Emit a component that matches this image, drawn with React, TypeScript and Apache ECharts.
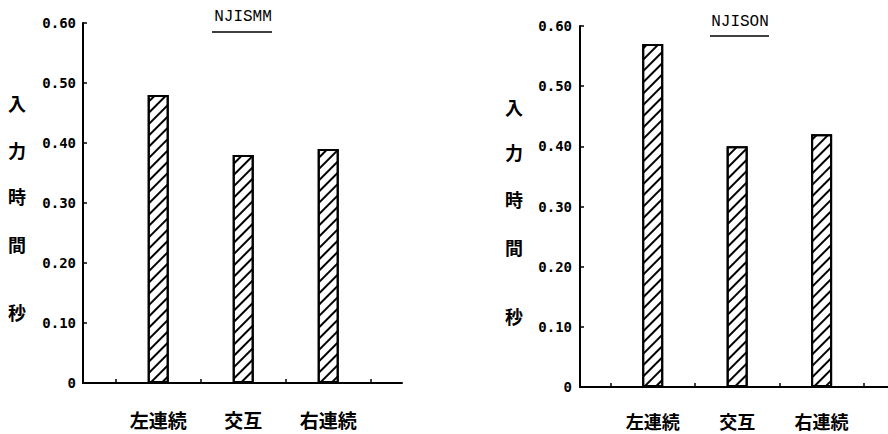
import React, { useEffect, useRef } from "react";
import * as echarts from "echarts";

const categories = ["左連続", "交互", "右連続"];
const leftTitle = "NJISMM";
const rightTitle = "NJISON";
const leftValues = [0.48, 0.38, 0.39];
const rightValues = [0.57, 0.40, 0.42];
const yAxisTitle = ["入", "力", "時", "間"];
const yAxisUnit = "秒";
const catPositions = [1, 2, 3];
const tickPositions = [0.5, 1.5, 2.5, 3.5];

const MONO = "'DejaVu Sans Mono', 'Liberation Mono', monospace";
const TMONO = "'Liberation Mono', 'DejaVu Sans Mono', monospace";
const CJK = "'Noto Sans CJK JP', 'Noto Sans CJK SC', sans-serif";

export default function App() {
  const ref = useRef<HTMLDivElement>(null);
  useEffect(() => {
    if (!ref.current) return;
    const chart = echarts.init(ref.current, null, { renderer: "svg" });

    const decal = {
      symbol: "rect",
      symbolSize: 1,
      dashArrayX: [1, 0],
      dashArrayY: [1.6, 5.2],
      rotation: -Math.PI / 4,
      color: "#000",
      backgroundColor: "#fff",
    };

    const mkX = (gridIndex: number, min: number, max: number, margin: number, fontSize: number) => ({
      type: "value",
      gridIndex,
      min,
      max,
      splitLine: { show: false },
      axisLine: { show: true, lineStyle: { color: "#000", width: 2 } },
      axisTick: {
        show: true,
        inside: true,
        length: 4,
        customValues: tickPositions,
        lineStyle: { color: "#000", width: 1.5 },
      },
      axisLabel: {
        show: true,
        customValues: catPositions,
        formatter: (v: number) => categories[Math.round(v) - 1] ?? "",
        margin,
        color: "#000",
        fontFamily: CJK,
        fontWeight: "bold",
        fontSize,
      },
    });

    const mkY = (gridIndex: number, margin: number) => ({
      type: "value",
      gridIndex,
      min: 0,
      max: 0.6,
      interval: 0.1,
      splitLine: { show: false },
      axisLine: { show: true, lineStyle: { color: "#000", width: 2 } },
      axisTick: { show: true, inside: true, length: 4, lineStyle: { color: "#000", width: 1.5 } },
      axisLabel: {
        margin,
        color: "#000",
        fontFamily: MONO,
        fontWeight: "bold",
        fontSize: 14,
        formatter: (v: number) => (v === 0 ? "0" : v.toFixed(2)),
      },
    });

    const mkBar = (idx: number, values: number[]) => ({
      type: "bar",
      xAxisIndex: idx,
      yAxisIndex: idx,
      barWidth: 21,
      data: values.map((v, i) => [catPositions[i], v]),
      itemStyle: { color: "#fff", borderColor: "#000", borderWidth: 2, decal },
    });

    const titleText = (text: string, cx: number, cy: number, lineY: number, x1: number, x2: number) => [
      {
        type: "text",
        x: cx,
        y: cy,
        style: {
          text,
          fill: "#000",
          font: `normal 16px ${TMONO}`,
          textAlign: "center",
          textVerticalAlign: "middle",
        },
      },
      {
        type: "line",
        shape: { x1, y1: lineY, x2, y2: lineY },
        style: { stroke: "#000", lineWidth: 1.5 },
      },
    ];

    const charStyle = (text: string) => ({
      text,
      fill: "#000",
      font: `bold 18px ${CJK}`,
      textAlign: "center",
      textVerticalAlign: "middle",
    });

    const yTitle = (cx: number, ys: number[], unitY: number) => [
      ...yAxisTitle.map((c, i) => ({ type: "text", x: cx, y: ys[i], style: charStyle(c) })),
      { type: "text", x: cx, y: unitY, style: charStyle(yAxisUnit) },
    ];

    chart.setOption({
      animation: false,
      backgroundColor: "#fff",
      grid: [
        { left: 83, top: 23, width: 319, height: 360 },
        { left: 580, top: 26, width: 310, height: 361 },
      ],
      xAxis: [mkX(0, 0.115, 3.868, 27, 19), mkX(1, 0.139, 3.786, 25, 18)],
      yAxis: [mkY(0, 7), mkY(1, 8)],
      series: [mkBar(0, leftValues), mkBar(1, rightValues)],
      graphic: [
        ...titleText(leftTitle, 243, 17, 32, 212, 272),
        ...titleText(rightTitle, 740, 22, 36, 710, 769),
        ...yTitle(17, [103, 150, 196, 244], 312),
        ...yTitle(514, [107, 152, 199, 247], 316),
      ],
    });
    return () => chart.dispose();
  }, []);
  return (
    <div
      ref={ref}
      style={{ position: "absolute", left: 0, top: 0, width: 888, height: 434 }}
    />
  );
}
